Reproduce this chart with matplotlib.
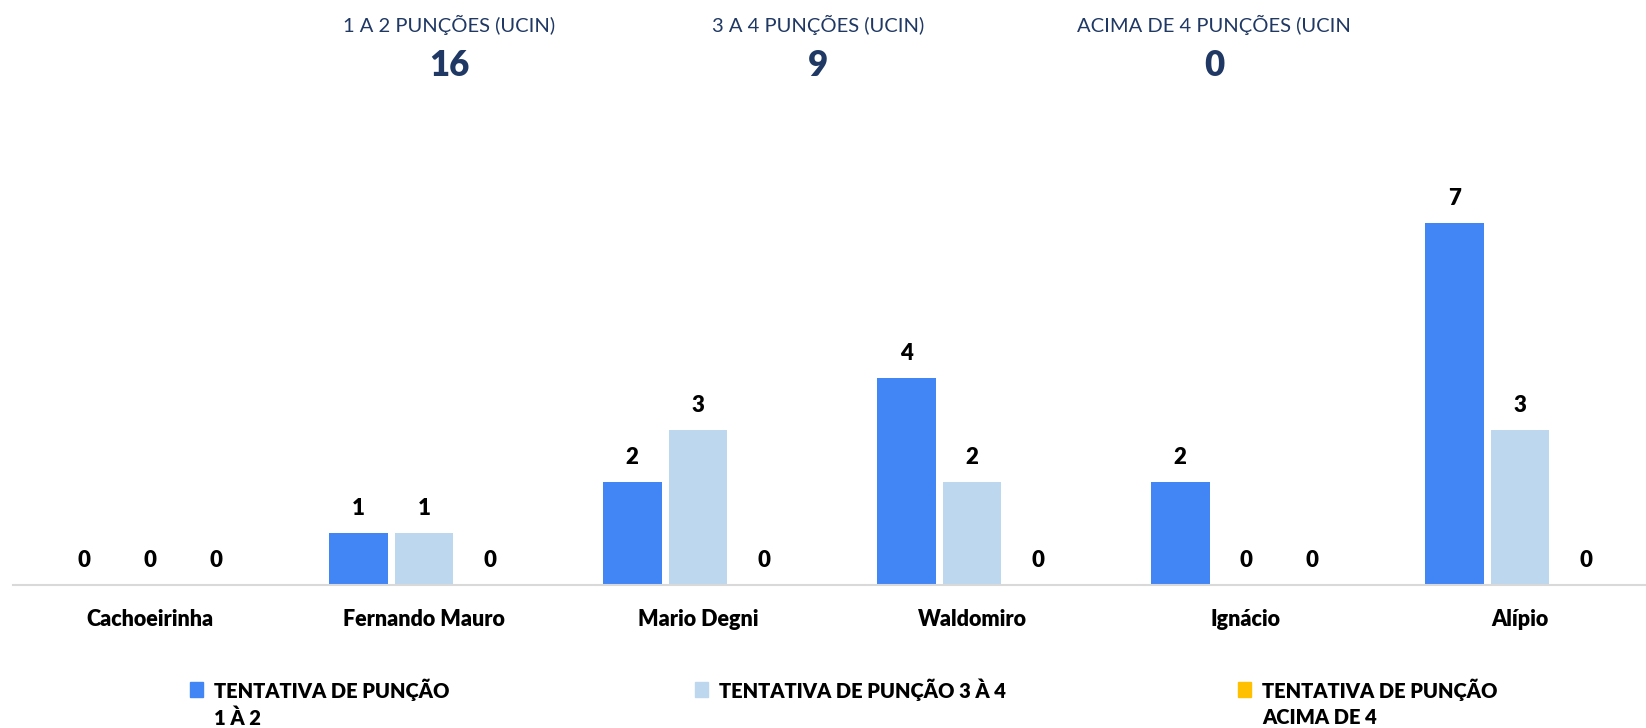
import numpy as np
import matplotlib
matplotlib.use("Agg")
import matplotlib.pyplot as plt
from matplotlib.patches import Rectangle

# dados do gráfico
hospitais = ["Cachoeirinha", "Fernando Mauro", "Mario Degni", "Waldomiro", "Ignácio", "Alípio"]
punc_1a2 = [0, 1, 2, 4, 2, 7]
punc_3a4 = [0, 1, 3, 2, 0, 3]
punc_acima4 = [0, 0, 0, 0, 0, 0]

series_labels = ["TENTATIVA DE PUNÇÃO\n1 À 2", "TENTATIVA DE PUNÇÃO 3 À 4", "TENTATIVA DE PUNÇÃO\nACIMA DE 4"]
resumo_titulos = ["1 A 2 PUNÇÕES (UCIN)", "3 A 4 PUNÇÕES (UCIN)", "ACIMA DE 4 PUNÇÕES (UCIN"]
cores = ["#4285F4", "#BDD7EE", "#FFC000"]

plt.rcParams['font.family'] = ['Lato', 'DejaVu Sans']

W, H = 1646, 728
fig = plt.figure(figsize=(W / 100, H / 100), dpi=100)

# eixo principal (posições em pixels convertidas)
ax = fig.add_axes([13 / W, (H - 585) / H, 1644 / W, 414 / H])

x = np.arange(len(hospitais))
largura = 0.215
desloc = 0.24
todas = [punc_1a2, punc_3a4, punc_acima4]
for i, (vals, cor) in enumerate(zip(todas, cores)):
    barras = ax.bar(x + (i - 1) * desloc, vals, largura, color=cor)
    ax.bar_label(barras, padding=10, fontsize=16, fontweight='heavy', color='black')

ax.set_xlim(-0.5, len(hospitais) - 0.5)
ax.set_ylim(0, 8)
ax.set_yticks([])
ax.set_xticks(x)
ax.set_xticklabels(hospitais, fontsize=15.5, fontweight='heavy')
ax.tick_params(axis='x', length=0, pad=17)
for s in ['top', 'left', 'right']:
    ax.spines[s].set_visible(False)
ax.spines['bottom'].set_color('#D9D9D9')
ax.spines['bottom'].set_linewidth(1.5)
ax.spines['bottom'].set_clip_on(False)

# resumo no topo
totais = [sum(punc_1a2), sum(punc_3a4), sum(punc_acima4)]
centros = [449, 818, 1214]
azul_escuro = "#1F3864"
for cx, tit, tot in zip(centros, resumo_titulos, totais):
    fig.text(cx / W, 1 - 25 / H, tit, ha='center', va='center', fontsize=14.5, color=azul_escuro)
    fig.text(cx / W, 1 - 65 / H, str(tot), ha='center', va='center', fontsize=25,
             fontweight='heavy', color=azul_escuro)

# legenda manual
leg_x = [190, 695, 1238]
for lx, lab, cor in zip(leg_x, series_labels, cores):
    fig.patches.append(Rectangle((lx / W, 1 - 697 / H), 13 / W, 15 / H,
                                 transform=fig.transFigure, color=cor))
    linhas = lab.split("\n")
    for j, ln in enumerate(linhas):
        fig.text((lx + 24) / W, 1 - (690 + 28 * j) / H, ln, ha='left', va='center',
                 fontsize=14.5, fontweight='heavy', color='black')

fig.savefig("out.png", dpi=100)
